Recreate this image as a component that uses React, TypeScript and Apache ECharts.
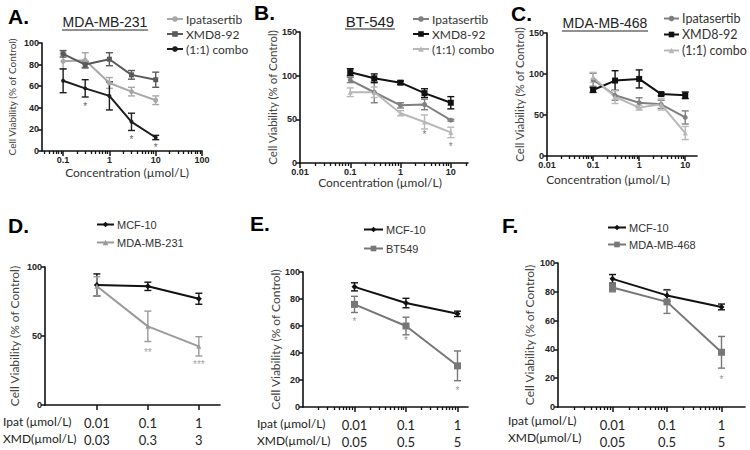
import React, { useEffect, useRef } from "react";
import * as echarts from "echarts";

// ---- data ----
const concTop = [0.1, 0.3, 1, 3, 10];
const concBottom = [0.01, 0.1, 1];

const aIpat = [83, 84, 63, 55, 47];
const aIpatErr = [7, 7, 5, 4, 4];
const aXmd = [90, 80, 85, 70.5, 66];
const aXmdErr = [3, 3, 6, 4, 7];
const aCombo = [65, 58, 51, 27, 12.5];
const aComboErr = [11, 8, 13, 8, 2];
const aStarX = [0.3, 3, 10];
const aStarY = [41, 11, 3];
const aStarText = ["*", "*", "*"];

const bIpat = [95, 81, 66, 67, 49];
const bIpatErr = [3, 12, 3, 6, 1];
const bXmd = [104, 97, 92, 80, 69];
const bXmdErr = [4, 5, 2, 5, 7];
const bCombo = [81, 81, 57, 47, 35];
const bComboErr = [5, 6, 3, 8, 6];
const bStarX = [3, 10];
const bStarY = [33, 19];
const bStarText = ["*", "*"];

const cIpat = [93, 74, 65, 63, 47];
const cIpatErr = [8, 6, 6, 5, 8];
const cXmd = [80.5, 92, 94, 75.5, 74];
const cXmdErr = [3, 12, 11, 2, 4];
const cCombo = [96, 72, 59, 63, 28];
const cComboErr = [6, 8, 3, 7, 8];

const dMcf = [87, 86, 77];
const dMcfErr = [8, 3, 4];
const dMda = [86, 57, 42.5];
const dMdaErr = [7, 11, 7];
const dStarX = [0.1, 1];
const dStarY = [38, 29.5];
const dStarText = ["**", "***"];

const eMcf = [89, 77, 69];
const eMcfErr = [3, 3.5, 2];
const eBt = [76, 60, 30.5];
const eBtErr = [6, 6.5, 11];
const eStarX = [0.01, 0.1, 1];
const eStarY = [63, 49, 12.5];
const eStarText = ["*", "*", "*"];

const fMcf = [89, 77.5, 69.5];
const fMcfErr = [3, 4, 2];
const fMda = [83, 73, 38];
const fMdaErr = [3, 8, 11];
const fStarX = [1];
const fStarY = [19];
const fStarText = ["*"];

const topTickLabels = ["0.01", "0.1", "1", "10", "100"];
const topTickValues = [0.01, 0.1, 1, 10, 100];
const ipatLabels = ["0.01", "0.1", "1"];
const xmdLabelsD = ["0.03", "0.3", "3"];
const xmdLabelsEF = ["0.05", "0.5", "5"];
const minorMultipliers = [2, 3, 4, 5, 6, 7, 8, 9];
const decadesA = [0.01, 0.1, 1, 10];
const decadesBC = [0.01, 0.1, 1, 10];
const decadesEF = [0.001, 0.01, 0.1];

const LATO = "Lato, 'Open Sans', sans-serif";
const ARIAL = "'Liberation Sans', Arial, sans-serif";

function minorTicks(decades: number[], min: number, max: number) {
  const out: number[] = [];
  decades.forEach((d) =>
    minorMultipliers.forEach((m) => {
      const v = +(d * m).toPrecision(3);
      if (v > min && v < max) out.push(v);
    })
  );
  return out;
}

function nearestIdx(vals: number[], v: number) {
  let best = 0;
  let bd = Infinity;
  vals.forEach((x, i) => {
    const d = Math.abs(Math.log10(x) - Math.log10(v));
    if (d < bd) {
      bd = d;
      best = i;
    }
  });
  return best;
}

export default function App() {
  const ref = useRef<HTMLDivElement>(null);

  useEffect(() => {
    if (!ref.current) return;
    const chart = echarts.init(ref.current, undefined, { renderer: "svg" });

    const grids = [
      { left: 42, top: 43, width: 160, height: 108 },
      { left: 300, top: 32, width: 168, height: 131 },
      { left: 547, top: 33, width: 150, height: 123 },
      { left: 45, top: 267, width: 175, height: 138 },
      { left: 303, top: 272, width: 165, height: 136 },
      { left: 558, top: 263, width: 187, height: 144 },
    ];

    const xExt = [
      [0.035, 100],
      [0.01, 22],
      [0.01, 18],
      [0.00096, 2.6],
      [0.001, 1.6],
      [0.001, 2.7],
    ];

    const axisLine = { show: true, lineStyle: { color: "#111", width: 1.6 } };

    const xAxis: any[] = [];
    const yAxis: any[] = [];

    const topMajors = [
      [0.1, 1, 10, 100],
      [0.01, 0.1, 1, 10],
      [0.01, 0.1, 1, 10],
    ];
    const xNamePad = [
      [0, 0, 0, 10],
      [0, 8, 0, 0],
      [0, 28, 0, 0],
    ];
    const xNameGap = [15, 12, 17];

    for (let p = 0; p < 3; p++) {
      xAxis.push({
        type: "log",
        gridIndex: p,
        min: xExt[p][0],
        max: xExt[p][1],
        axisLine,
        splitLine: { show: false },
        axisTick: { show: true, length: 5, customValues: topMajors[p], lineStyle: { color: "#111", width: 1.5 } },
        axisLabel: {
          customValues: topMajors[p],
          margin: 4,
          fontSize: 9,
          fontWeight: "bold",
          fontFamily: ARIAL,
          color: "#222",
          formatter: (v: number) => topTickLabels[nearestIdx(topTickValues, v)],
        },
        name: "Concentration (\u00b5mol/L)",
        nameLocation: "middle",
        nameGap: xNameGap[p],
        nameTextStyle: { fontFamily: LATO, fontSize: 12, color: "#333", padding: xNamePad[p] },
      });
    }
    const rowLabelsXmd = [xmdLabelsD, xmdLabelsEF, xmdLabelsEF];
    for (let p = 3; p < 6; p++) {
      const xl = rowLabelsXmd[p - 3];
      xAxis.push({
        type: "log",
        gridIndex: p,
        min: xExt[p][0],
        max: xExt[p][1],
        axisLine,
        splitLine: { show: false },
        axisTick: { show: true, length: 5, customValues: concBottom, lineStyle: { color: "#111", width: 1.5 } },
        axisLabel: {
          customValues: concBottom,
          margin: 9,
          fontSize: 13,
          lineHeight: 17,
          fontFamily: LATO,
          color: "#222",
          formatter: (v: number) => {
            const i = nearestIdx(concBottom, v);
            return ipatLabels[i] + "\n" + xl[i];
          },
        },
      });
    }
    // minor tick axes
    const minorSpec: [number, number[]][] = [
      [0, decadesA],
      [1, decadesBC],
      [2, decadesBC],
      [4, decadesEF],
      [5, decadesEF],
    ];
    minorSpec.forEach(([p, dec]) => {
      xAxis.push({
        type: "log",
        gridIndex: p,
        position: "bottom",
        offset: 0,
        min: xExt[p][0],
        max: xExt[p][1],
        axisLine: { show: false },
        splitLine: { show: false },
        axisLabel: { show: false },
        axisTick: {
          show: true,
          length: 3,
          customValues: minorTicks(dec, xExt[p][0], p >= 4 ? 1 : xExt[p][1]),
          lineStyle: { color: "#111", width: 1.3 },
        },
      });
    });

    const yMax = [100, 150, 150, 100, 100, 100];
    const yInt = [20, 50, 50, 50, 20, 20];
    const yNameGap = [25, 18, 22, 25, 21, 23];
    const yNameSize = [10, 11.5, 11.5, 12, 12, 12];
    for (let p = 0; p < 6; p++) {
      yAxis.push({
        type: "value",
        gridIndex: p,
        min: 0,
        max: yMax[p],
        interval: yInt[p],
        axisLine,
        splitLine: { show: false },
        axisTick: { show: true, length: 4, lineStyle: { color: "#111", width: 1.5 } },
        axisLabel: { margin: 3, fontSize: 9, fontWeight: "bold", fontFamily: ARIAL, color: "#222" },
        name: "Cell Viability (% of Control)",
        nameLocation: "middle",
        nameGap: yNameGap[p],
        nameTextStyle: { fontFamily: LATO, fontSize: yNameSize[p], color: "#444" },
      });
    }

    const series: any[] = [];
    const legendNames: string[][] = [[], [], [], [], [], []];

    function addLine(
      p: number,
      label: string,
      xs: number[],
      ys: number[],
      errs: number[],
      color: string,
      symbol: string,
      symbolSize: number,
      width = 2
    ) {
      const name = `${"ABCDEF"[p]}|${label}`;
      legendNames[p].push(name);
      series.push({
        type: "custom",
        xAxisIndex: p,
        yAxisIndex: p,
        silent: true,
        encode: { x: 0, y: [1, 2] },
        data: xs.map((x, i) => [x, ys[i] - errs[i], ys[i] + errs[i]]),
        renderItem: (_params: any, api: any) => {
          const x = api.value(0);
          const lo = api.coord([x, api.value(1)]);
          const hi = api.coord([x, api.value(2)]);
          const w = 3.5;
          const style = { stroke: color, lineWidth: 1.4 };
          return {
            type: "group",
            children: [
              { type: "line", shape: { x1: lo[0], y1: lo[1], x2: hi[0], y2: hi[1] }, style },
              { type: "line", shape: { x1: lo[0] - w, y1: lo[1], x2: lo[0] + w, y2: lo[1] }, style },
              { type: "line", shape: { x1: hi[0] - w, y1: hi[1], x2: hi[0] + w, y2: hi[1] }, style },
            ],
          };
        },
      });
      series.push({
        name,
        type: "line",
        xAxisIndex: p,
        yAxisIndex: p,
        data: xs.map((x, i) => [x, ys[i]]),
        symbol,
        symbolSize,
        showSymbol: true,
        lineStyle: { color, width },
        itemStyle: { color },
      });
    }

    function addStars(p: number, xs: number[], ys: number[], texts: string[], color: string) {
      series.push({
        type: "scatter",
        xAxisIndex: p,
        yAxisIndex: p,
        symbolSize: 1,
        itemStyle: { color: "rgba(0,0,0,0)" },
        silent: true,
        data: xs.map((x, i) => ({ value: [x, ys[i]], name: texts[i] })),
        label: {
          show: true,
          position: "inside",
          formatter: "{b}",
          fontSize: 10,
          fontFamily: ARIAL,
          color,
        },
      });
    }

    // A
    addLine(0, "Ipatasertib", concTop, aIpat, aIpatErr, "#a8a8a8", "circle", 5);
    addLine(0, "XMD8-92", concTop, aXmd, aXmdErr, "#5a5a5a", "rect", 5);
    addLine(0, "(1:1) combo", concTop, aCombo, aComboErr, "#1c1c1c", "circle", 4);
    addStars(0, aStarX, aStarY, aStarText, "#333");
    // B
    addLine(1, "Ipatasertib", concTop, bIpat, bIpatErr, "#808080", "circle", 5);
    addLine(1, "XMD8-92", concTop, bXmd, bXmdErr, "#111111", "rect", 6);
    addLine(1, "(1:1) combo", concTop, bCombo, bComboErr, "#b8b8b8", "triangle", 5);
    addStars(1, bStarX, bStarY, bStarText, "#555");
    // C
    addLine(2, "Ipatasertib", concTop, cIpat, cIpatErr, "#808080", "circle", 5);
    addLine(2, "XMD8-92", concTop, cXmd, cXmdErr, "#111111", "rect", 6);
    addLine(2, "(1:1) combo", concTop, cCombo, cComboErr, "#b8b8b8", "triangle", 5);
    // D
    addLine(3, "MCF-10", concBottom, dMcf, dMcfErr, "#111111", "diamond", 6);
    addLine(3, "MDA-MB-231", concBottom, dMda, dMdaErr, "#9a9a9a", "triangle", 5);
    addStars(3, dStarX, dStarY, dStarText, "#888");
    // E
    addLine(4, "MCF-10", concBottom, eMcf, eMcfErr, "#111111", "diamond", 6);
    addLine(4, "BT549", concBottom, eBt, eBtErr, "#777777", "rect", 7);
    addStars(4, eStarX, eStarY, eStarText, "#777");
    // F
    addLine(5, "MCF-10", concBottom, fMcf, fMcfErr, "#111111", "diamond", 6);
    addLine(5, "MDA-MB-468", concBottom, fMda, fMdaErr, "#777777", "rect", 7);
    addStars(5, fStarX, fStarY, fStarText, "#777");

    const legendPos = [
      { left: 166, top: 13, gap: 3, size: 12, font: LATO, iw: 16 },
      { left: 412, top: 13, gap: 3, size: 12, font: LATO, iw: 16 },
      { left: 663, top: 12, gap: 3, size: 12.5, font: LATO, iw: 15 },
      { left: 96, top: 219, gap: 7, size: 11, font: ARIAL, iw: 17 },
      { left: 363, top: 224, gap: 8, size: 11, font: ARIAL, iw: 19 },
      { left: 607, top: 222, gap: 6, size: 11, font: ARIAL, iw: 18 },
    ];
    const legend = legendPos.map((l, p) => ({
      orient: "vertical",
      left: l.left,
      top: l.top,
      itemGap: l.gap,
      itemWidth: l.iw,
      itemHeight: 7,
      padding: 0,
      selectedMode: false,
      data: legendNames[p],
      formatter: (n: string) => n.split("|")[1],
      textStyle: { fontFamily: l.font, fontSize: l.size, color: "#333", padding: [0, 0, 0, -2] },
    }));

    const letter = (text: string, x: number, y: number) => ({
      type: "text",
      x,
      y,
      style: { text, fontFamily: ARIAL, fontWeight: "bold", fontSize: 21, fill: "#000", textVerticalAlign: "middle" },
    });
    const title = (text: string, cx: number, y: number, size: number, halfW: number) => [
      {
        type: "text",
        x: cx,
        y,
        style: { text, fontFamily: ARIAL, fontSize: size, fill: "#222", textAlign: "center", textVerticalAlign: "middle" },
      },
      { type: "line", shape: { x1: cx - halfW, y1: y + 8, x2: cx + halfW, y2: y + 8 }, style: { stroke: "#222", lineWidth: 1 } },
    ];
    const rowLabel = (text: string, x: number, y: number) => ({
      type: "text",
      x,
      y,
      style: { text, fontFamily: LATO, fontSize: 12, fill: "#222", textVerticalAlign: "middle" },
    });

    const graphic: any[] = [
      letter("A.", 8, 16),
      letter("B.", 254, 12),
      letter("C.", 511, 13),
      letter("D.", 8, 225),
      letter("E.", 250, 223),
      letter("F.", 502, 225),
      ...title("MDA-MB-231", 105, 22, 14, 43),
      ...title("BT-549", 370, 21, 15, 25),
      ...title("MDA-MB-468", 605, 23, 14, 43),
      rowLabel("Ipat (\u00b5mol/L)", 3, 421),
      rowLabel("XMD(\u00b5mol/L)", 3, 438),
      rowLabel("Ipat (\u00b5mol/L)", 257, 423),
      rowLabel("XMD(\u00b5mol/L)", 257, 440),
      rowLabel("Ipat (\u00b5mol/L)", 508, 420),
      rowLabel("XMD(\u00b5mol/L)", 508, 437),
    ];

    chart.setOption({
      animation: false,
      backgroundColor: "#fff",
      grid: grids,
      xAxis,
      yAxis,
      legend,
      series,
      graphic,
    });

    return () => chart.dispose();
  }, []);

  return (
    <div
      ref={ref}
      style={{ position: "fixed", left: 0, top: 0, width: 750, height: 450, background: "#fff" }}
    />
  );
}
